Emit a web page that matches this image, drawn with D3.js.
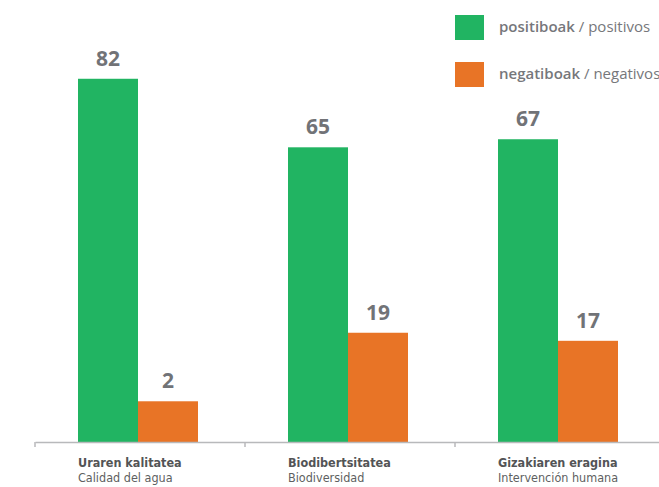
<html>
<head>
<meta charset="utf-8">
<script src="https://d3js.org/d3.v7.min.js"></script>
<style>
  body { margin: 0; background: #fff; }
  text { font-family: "Open Sans", sans-serif; }
  .cat { font-family: "DejaVu Sans Condensed", "DejaVu Sans", sans-serif; }
</style>
</head>
<body>
<div id="chart"></div>
<script>
  var categoriesEu = ["Uraren kalitatea", "Biodibertsitatea", "Gizakiaren eragina"];
  var categoriesEs = ["Calidad del agua", "Biodiversidad", "Intervención humana"];
  var positivos = [82, 65, 67];
  var negativos = [2, 19, 17];
  var seriesEu = ["positiboak", "negatiboak"];
  var seriesEs = ["positivos", "negativos"];
  var colors = ["#21b462", "#e87426"];

  var width = 659, height = 487;
  var baseY = 442;

  var svg = d3.select("#chart").append("svg")
    .attr("width", width)
    .attr("height", height);

  var x = d3.scaleBand()
    .domain(categoriesEu)
    .range([35, 665])
    .paddingInner(0);

  var xs = d3.scaleBand()
    .domain([0, 1])
    .range([43, 163]);

  // the original drawing isn't strictly proportional; best linear fit
  var y = d3.scaleLinear()
    .domain([-8.1, 87.4])
    .range([baseY, 57]);

  var data = categoriesEu.map(function (c, i) {
    return { cat: c, vals: [positivos[i], negativos[i]] };
  });

  var groups = svg.selectAll(".grp")
    .data(data)
    .enter()
    .append("g")
    .attr("transform", d => "translate(" + x(d.cat) + ",0)");

  groups.selectAll("rect")
    .data(d => d.vals)
    .enter()
    .append("rect")
    .attr("x", (d, i) => xs(i))
    .attr("width", xs.bandwidth())
    .attr("y", d => y(d))
    .attr("height", d => baseY - y(d))
    .attr("fill", (d, i) => colors[i]);

  groups.selectAll(".val")
    .data(d => d.vals)
    .enter()
    .append("text")
    .attr("x", (d, i) => xs(i) + xs.bandwidth() / 2)
    .attr("y", d => y(d) - 13)
    .attr("text-anchor", "middle")
    .attr("font-size", "21px")
    .attr("font-weight", "bold")
    .attr("fill", "#717377")
    .text(d => d);

  // axis
  var axis = svg.append("g")
    .attr("transform", "translate(0," + baseY + ")")
    .call(d3.axisBottom(x).tickSize(0).tickFormat(""));
  axis.select(".domain").attr("stroke", "#b8b9bb").attr("stroke-width", 1.5);

  var ticks = [35].concat(categoriesEu.slice(1).map(c => x(c)));
  svg.selectAll(".tk")
    .data(ticks)
    .enter()
    .append("line")
    .attr("x1", d => d).attr("x2", d => d)
    .attr("y1", baseY).attr("y2", baseY + 5)
    .attr("stroke", "#b8b9bb")
    .attr("stroke-width", 1.5);

  // category labels
  groups.append("text")
    .attr("class", "cat")
    .attr("x", xs(0))
    .attr("y", 467)
    .attr("font-size", "12.5px")
    .attr("font-weight", "bold")
    .attr("fill", "#535456")
    .text((d, i) => categoriesEu[i]);

  groups.append("text")
    .attr("class", "cat")
    .attr("x", xs(0))
    .attr("y", 482)
    .attr("font-size", "12.5px")
    .attr("fill", "#5e5f61")
    .text((d, i) => categoriesEs[i]);

  // legend
  var legend = svg.selectAll(".lg")
    .data(seriesEu)
    .enter()
    .append("g")
    .attr("transform", (d, i) => "translate(455," + (15 + i * 47) + ")");

  legend.append("rect")
    .attr("width", 29)
    .attr("height", 25)
    .attr("fill", (d, i) => colors[i]);

  var lt = legend.append("text")
    .attr("x", 44)
    .attr("y", 17)
    .attr("font-size", "15px")
    .attr("fill", "#76777b");
  lt.append("tspan").attr("font-weight", "600").text(d => d);
  lt.append("tspan").text((d, i) => " / " + seriesEs[i]);
</script>
</body>
</html>
